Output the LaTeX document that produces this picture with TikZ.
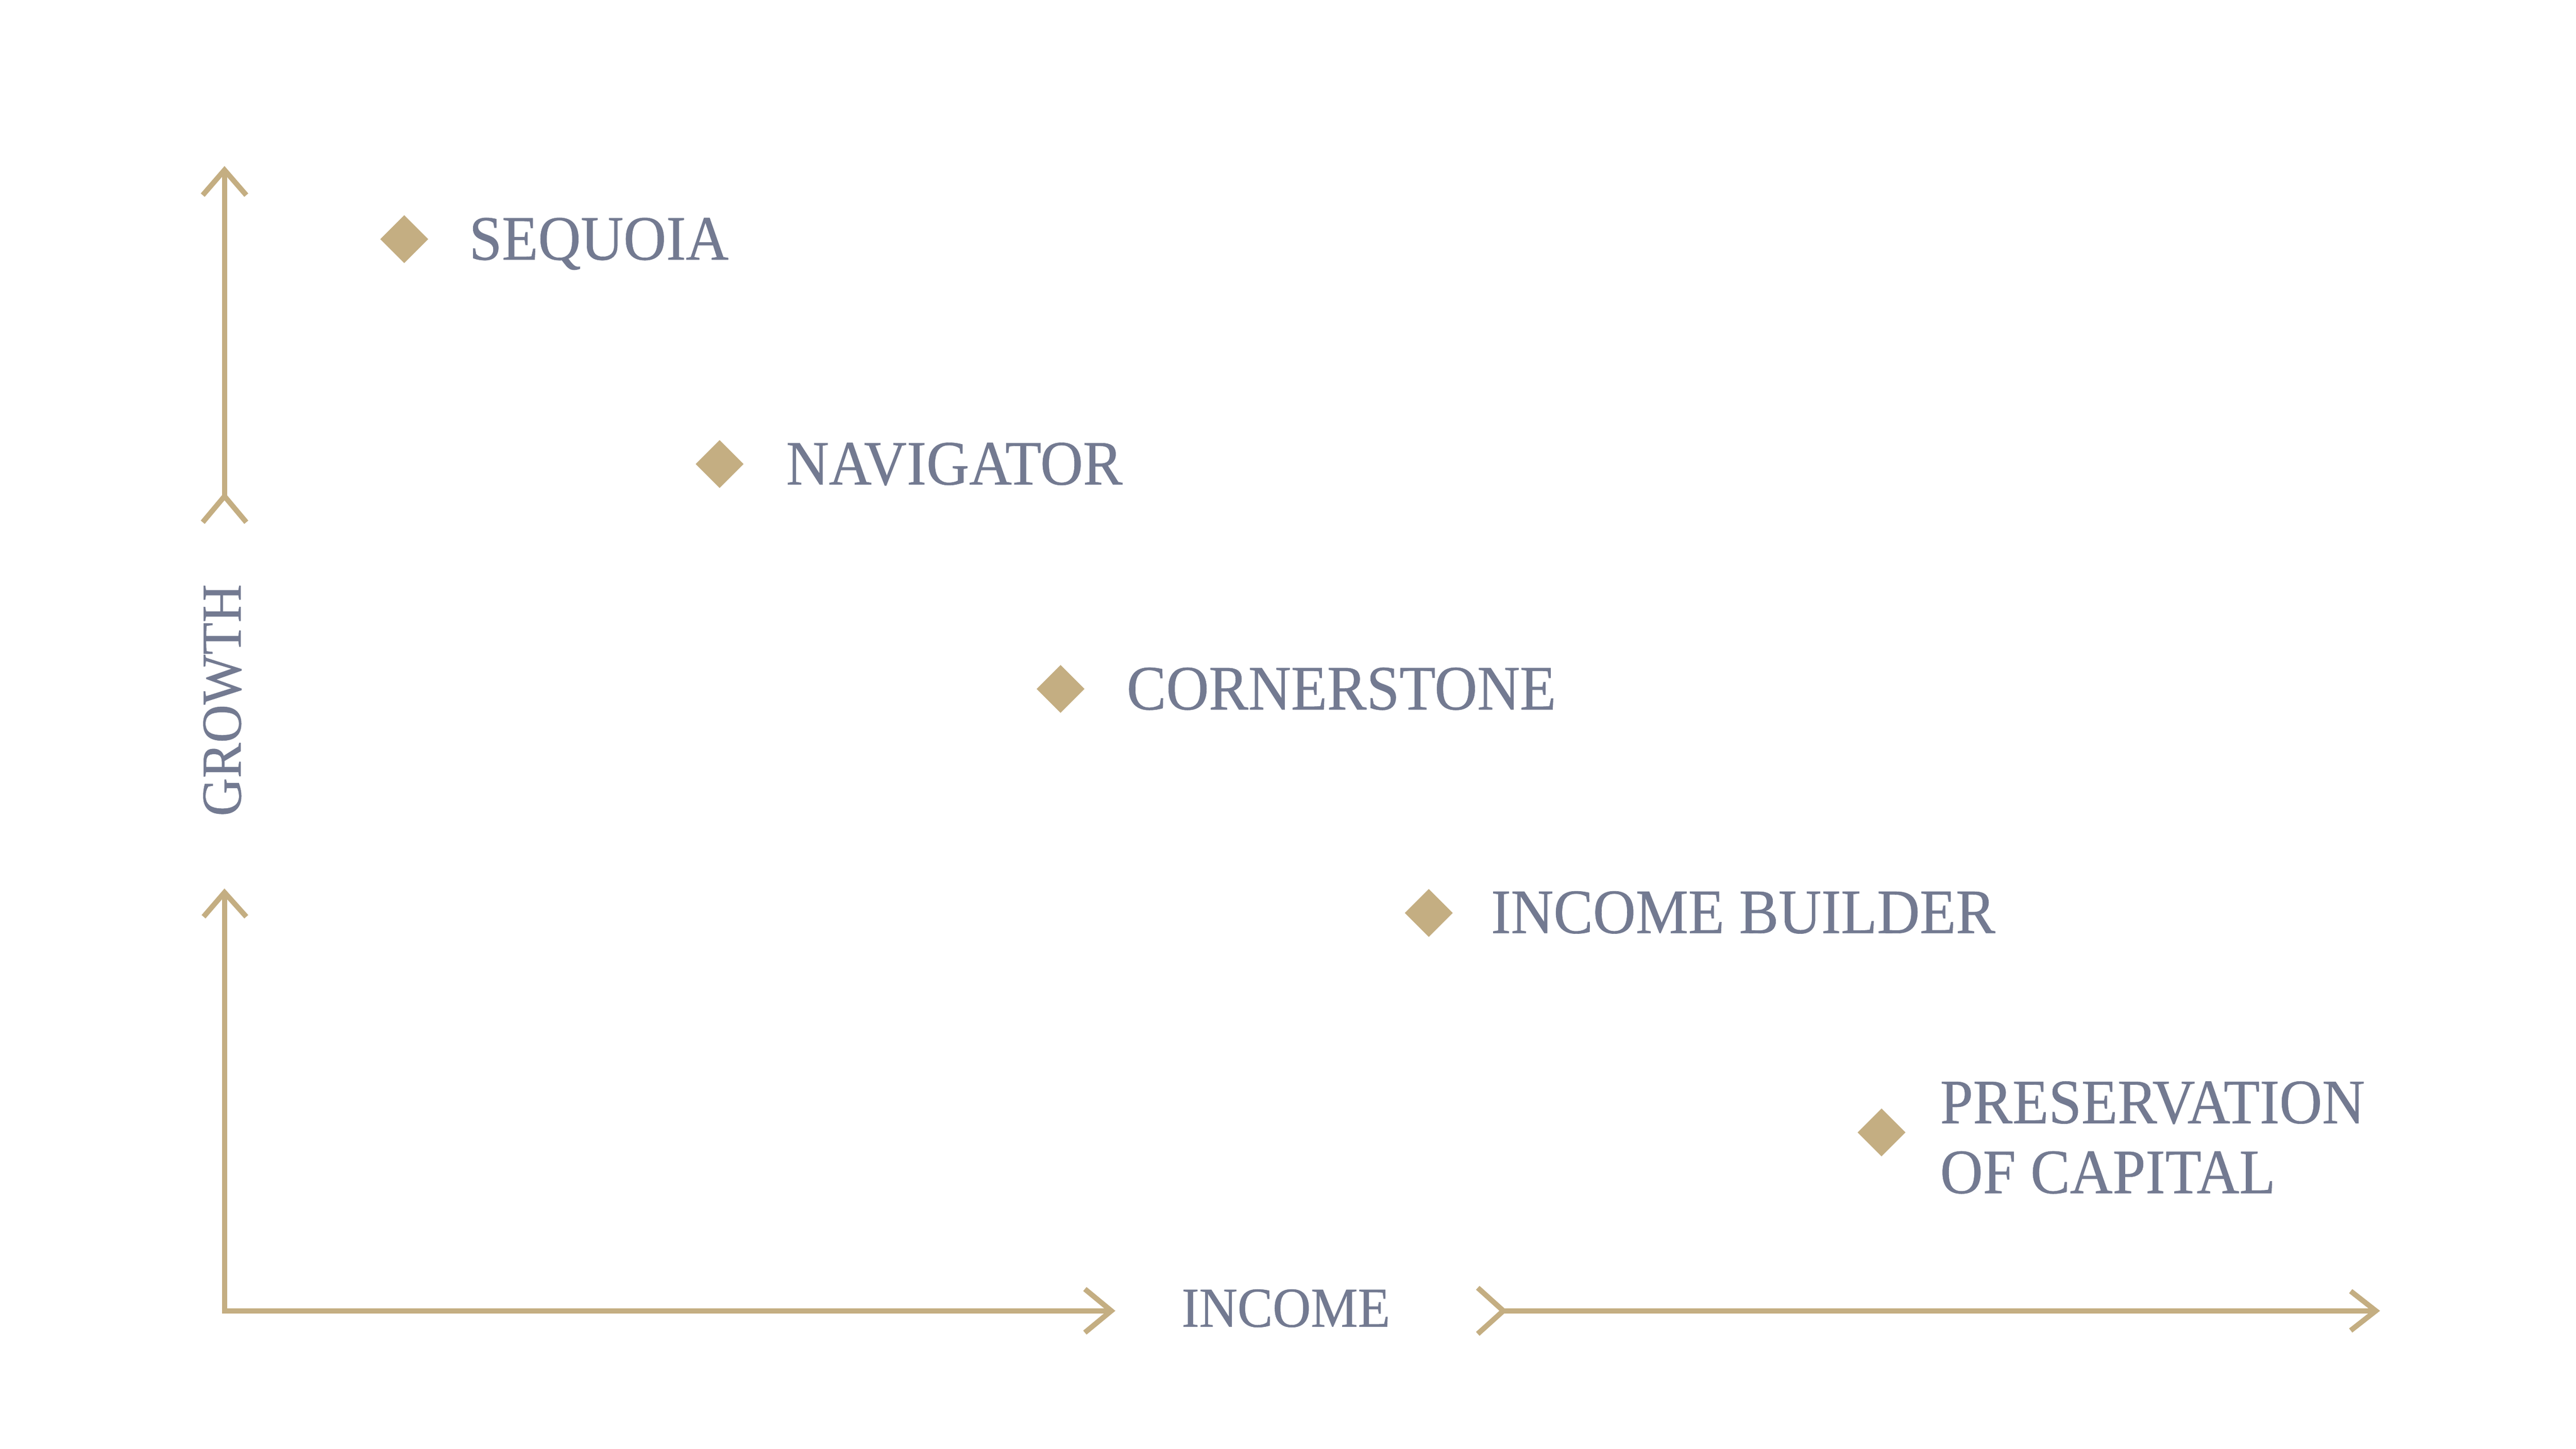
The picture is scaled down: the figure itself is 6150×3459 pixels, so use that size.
\documentclass[tikz,border=0pt]{standalone}
\usepackage{fontspec}
\setmainfont[FakeStretch=0.935,FakeBold=0.5]{Liberation Serif}
\usetikzlibrary{shapes.geometric}
\definecolor{gold}{HTML}{C4AE82}
\definecolor{slate}{HTML}{737A91}
\tikzset{
  axisline/.style={draw=gold, line width=1.25pt, line cap=butt, line join=miter},
  gem/.style={diamond, aspect=1, fill=gold, draw=none, inner sep=0pt, minimum size=11.6pt},
  lab/.style={text=slate, inner sep=0pt, anchor=base west, font=\fontsize{15.1}{16.7}\selectfont},
  axlab/.style={text=slate, inner sep=0pt, font=\fontsize{13.5}{16}\selectfont}
}
\begin{document}
\begin{tikzpicture}[x=0.1pt,y=-0.1pt]
\useasboundingbox[fill=white] (0,0) rectangle (6150,3459);
% axis points
\coordinate (O) at (536,3130);
\coordinate (vt1) at (536,2131);
\coordinate (vt1a) at (486,2189);
\coordinate (vt1b) at (588,2189);
\coordinate (vs) at (536,1185);
\coordinate (vsa) at (484,1247);
\coordinate (vsb) at (588,1247);
\coordinate (vt2) at (536,406);
\coordinate (vt2a) at (484,466);
\coordinate (vt2b) at (588,466);
\coordinate (ht1) at (2653,3130);
\coordinate (ht1a) at (2590,3078);
\coordinate (ht1b) at (2590,3182);
\coordinate (hs) at (3589,3130);
\coordinate (hsa) at (3528,3075);
\coordinate (hsb) at (3528,3185);
\coordinate (ht2) at (5672,3130);
\coordinate (ht2a) at (5612,3083);
\coordinate (ht2b) at (5612,3177);
% vertical axis
\draw[axisline] (O) -- (vt1);
\draw[axisline] (vt1a) -- (vt1) -- (vt1b);
\draw[axisline] (vs) -- (vt2);
\draw[axisline] (vsa) -- (vs) -- (vsb);
\draw[axisline] (vt2a) -- (vt2) -- (vt2b);
% horizontal axis
\draw[axisline] ([xshift=-0.625pt]O) -- (ht1);
\draw[axisline] (ht1a) -- (ht1) -- (ht1b);
\draw[axisline] (hs) -- (ht2);
\draw[axisline] (hsa) -- (hs) -- (hsb);
\draw[axisline] (ht2a) -- (ht2) -- (ht2b);
% axis labels
\node[axlab, rotate=90] (growth) at (531,1672) {GROWTH};
\node[axlab] (income) at (3070,3124) {INCOME};
% items
\node[gem] (d1) at (965,571) {};
\node[lab] (t1) at (1118,620) {SEQUOIA};
\node[gem] (d2) at (1718,1108) {};
\node[lab] (t2) at (1875,1157) {NAVIGATOR};
\node[gem] (d3) at (2532,1645) {};
\node[lab] (t3) at (2688,1694) {CORNERSTONE};
\node[gem] (d4) at (3411,2180) {};
\node[lab] (t4) at (3558,2228) {INCOME BUILDER};
\node[gem] (d5) at (4492,2704) {};
\node[lab, anchor=north west, align=left] (t5) at (4630,2580) {PRESERVATION\\OF CAPITAL};
\end{tikzpicture}
\end{document}
